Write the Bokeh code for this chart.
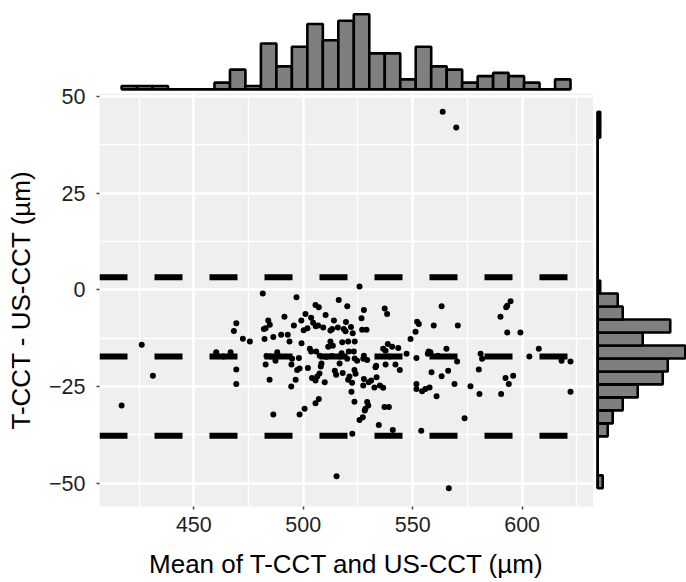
import numpy as np
from bokeh.plotting import figure
from bokeh.layouts import column, row
from bokeh.models import Range1d, Span, FixedTicker
from bokeh.embed import file_html
from bokeh.resources import INLINE

# ---------------- data ----------------
x_mean = [
    481.5, 496.9, 505.6, 507.1, 516.2, 501.0, 503.6, 491.4, 484.0, 484.7,
    482.8, 482.0, 469.4, 468.3, 472.4, 475.6, 426.2, 431.3, 417.0, 460.2,
    466.8, 469.4, 469.4, 482.3, 486.3, 489.9, 492.9, 493.7, 495.7, 499.1,
    501.9, 505.7, 506.8, 509.1, 514.0, 512.4, 513.2, 510.2, 515.8, 518.5,
    499.2, 512.4, 511.4, 513.5, 517.8, 503.0, 503.6, 505.9, 488.1, 485.0,
    487.3, 494.9, 498.0, 494.6, 482.8, 498.3, 497.2, 502.1, 508.3, 517.5,
    516.6, 514.4, 515.0, 507.4, 506.4, 505.6, 509.8, 484.6, 496.5, 494.5,
    507.1, 505.6, 500.6, 498.3, 486.3, 525.7, 520.1, 527.7, 537.2, 538.3,
    526.6, 519.3, 526.9, 528.9, 522.6, 520.5, 523.5, 520.8, 523.1, 520.1,
    523.5, 524.6, 523.4, 523.9, 521.1, 520.5, 527.7, 527.4, 529.9, 531.0,
    533.5, 532.5, 535.0, 536.5, 522.0, 523.4, 529.2, 529.7, 528.4, 528.1,
    537.1, 539.1, 527.2, 525.7, 534.5, 540.9, 553.9, 527.7, 527.4, 529.2,
    533.3, 533.0, 537.6, 542.1, 544.1, 536.5, 537.6, 538.6, 540.6, 543.4,
    547.2, 551.7, 549.0, 551.3, 552.8, 552.0, 559.6, 563.2, 570.6, 557.3,
    556.9, 558.1, 565.4, 570.3, 558.6, 563.2, 566.2, 551.7, 551.7, 554.3,
    555.8, 557.7, 560.9, 569.1, 573.7, 576.4, 580.5, 580.2, 581.0, 581.7,
    590.4, 592.4, 593.9, 595.9, 590.1, 593.2, 599.2, 594.7, 593.2, 592.7,
    603.3, 607.6, 618.0, 622.1, 622.1, 522.4, 515.2, 566.5, 563.7, 569.9,
    483.2, 486.8, 507.5, 510.5, 513.0, 516.8, 539.5, 504.5, 519.5, 521.8,
    500.2, 504.0, 518.0, 522.3, 508.0, 561.5, 463.5,
]
y_diff = [
    -0.9, -1.9, -3.9, -4.5, -2.6, -6.2, -7.2, -6.9, -7.9, -9.0,
    -9.9, -10.1, -8.6, -10.6, -12.6, -13.3, -14.2, -22.2, -29.9, -16.1,
    -16.1, -20.6, -24.3, -12.7, -12.2, -11.6, -11.6, -13.3, -9.2, -7.9,
    -9.9, -9.4, -9.2, -9.7, -7.9, -10.5, -10.1, -6.5, -9.7, -10.1,
    -13.8, -13.3, -14.7, -14.4, -13.5, -15.2, -15.9, -15.9, -16.1, -17.2,
    -18.3, -17.8, -17.6, -19.3, -19.3, -20.3, -20.7, -20.2, -19.0, -16.4,
    -19.0, -20.9, -21.9, -21.6, -22.4, -23.4, -23.9, -23.2, -23.2, -25.0,
    -28.2, -29.3, -30.7, -32.2, -32.2, 0.9, -4.2, -5.2, -4.8, -6.2,
    -7.3, -10.7, -10.3, -10.3, -11.2, -13.3, -13.3, -15.9, -15.9, -17.8,
    -17.7, -18.3, -20.7, -21.7, -22.4, -23.2, -23.0, -24.7, -23.9, -23.4,
    -22.6, -25.2, -24.7, -25.3, -26.3, -28.9, -29.0, -29.9, -30.7, -31.2,
    -30.3, -30.3, -32.9, -33.6, -34.9, -36.2, -36.4, -17.0, -17.8, -18.1,
    -19.6, -20.0, -19.3, -19.3, -20.7, -15.2, -15.7, -14.0, -14.7, -15.0,
    -16.5, -17.6, -12.7, -10.8, -8.8, -8.2, -9.2, -4.2, -9.2, -15.9,
    -16.5, -16.1, -15.2, -18.5, -21.3, -22.3, -20.9, -24.3, -25.6, -26.2,
    -25.6, -25.2, -27.5, -24.3, -33.2, -24.9, -26.9, -20.6, -16.5, -17.8,
    -26.9, -22.8, -24.3, -22.2, -6.9, -11.0, -11.0, -2.9, -4.1, -4.5,
    -17.2, -15.2, -18.3, -18.5, -26.3, -37.2, -48.2, -51.3, 46.1, 42.0,
    -17.1, -17.3, -17.0, -17.3, -17.1, -17.2, -17.2, -8.5, -8.3, -9.6,
    -10.4, -22.8, -21.5, -24.0, -19.8, -17.0, -17.2,
]
# marginal histogram counts (29 bins spanning the data range)
top_counts = [1, 1, 1, 0, 0, 0, 2, 6, 1, 14, 7, 13, 20, 15, 21, 23, 11, 11,
              3, 13, 7, 6, 2, 4, 5, 4, 2, 0, 3]
right_counts = [2, 0, 0, 0, 4, 6, 10, 16, 26, 28, 35, 18, 29, 10, 8, 1,
                0, 0, 0, 0, 0, 0, 0, 0, 0, 0, 0, 1, 1]  # lowest bin first
mean_diff = -17.2
sd_diff = 10.45
x_ticks = [450, 500, 550, 600]
y_ticks = [-50, -25, 0, 25, 50]
x_label = "Mean of T-CCT and US-CCT (µm)"
y_label = "T-CCT - US-CCT (µm)"

# ---------------- styling ----------------
FONT = "Liberation Sans"
PANEL_BG = "#EFEFEF"
BAR_FILL = "#7F7F7F"
TICK_FS = "21.5px"
TITLE_FS = "26px"
LABEL_COLOR = "#1E1E1E"

xs = np.array(x_mean)
ys = np.array(y_diff)
x_edges = np.linspace(xs.min(), xs.max(), len(top_counts) + 1)
y_edges = np.linspace(ys.min(), ys.max(), len(right_counts) + 1)

x_step = x_ticks[1] - x_ticks[0]
y_step = y_ticks[1] - y_ticks[0]
x_minor = [t - x_step / 2 for t in x_ticks] + [x_ticks[-1] + x_step / 2]
y_minor = [t + y_step / 2 for t in y_ticks[:-1]]

FW, FH = 494, 413
LEFT, BOTTOM = 99, 76
TOP_H = 93
RIGHT_W = 93
OVERLAP = 14          # room above the panel for the topmost y label
X_LO, X_HI = 406.9, 632.6
Y_LO, Y_HI = -56.0, 50.8


def minus(v):
    return str(v).replace("-", "\u2212")


# ---------------- main scatter panel ----------------
p = figure(frame_width=FW, frame_height=FH,
           x_range=Range1d(X_LO, X_HI), y_range=Range1d(Y_LO, Y_HI),
           min_border_left=LEFT, min_border_right=0, min_border_top=OVERLAP,
           min_border_bottom=BOTTOM, output_backend="svg",
           toolbar_location=None)
p.background_fill_color = PANEL_BG
p.border_fill_color = None
p.outline_line_color = None

p.xaxis.ticker = FixedTicker(ticks=x_ticks, minor_ticks=x_minor)
p.yaxis.ticker = FixedTicker(ticks=y_ticks, minor_ticks=y_minor)
p.yaxis.major_label_overrides = {t: minus(t) for t in y_ticks}
for ax in (p.xaxis, p.yaxis):
    ax.axis_line_color = None
    ax.major_tick_line_color = "#444444"
    ax.major_tick_line_width = 1.5
    ax.major_tick_in = 0
    ax.major_tick_out = 3
    ax.minor_tick_line_color = None
    ax.major_label_text_font = FONT
    ax.major_label_text_font_size = TICK_FS
    ax.major_label_text_color = LABEL_COLOR
    ax.axis_label_text_font = FONT
    ax.axis_label_text_font_size = TITLE_FS
    ax.axis_label_text_font_style = "normal"
    ax.axis_label_text_color = "black"
p.xaxis.axis_label = x_label
p.yaxis.axis_label = y_label
p.xaxis.major_label_standoff = 6
p.xaxis.axis_label_standoff = 14
p.yaxis.major_label_standoff = 10
p.yaxis.axis_label_standoff = 10

for g in (p.xgrid, p.ygrid):
    g.grid_line_color = "white"
    g.grid_line_width = 2.6
    g.minor_grid_line_color = "white"
    g.minor_grid_line_width = 1.3

for lvl in (mean_diff + 1.96 * sd_diff, mean_diff, mean_diff - 1.96 * sd_diff):
    p.add_layout(Span(location=lvl, dimension="width", line_color="black",
                      line_width=6, line_dash="28 27", line_cap="butt"))

p.scatter(xs, ys, size=6, color="black", line_color=None)

# ---------------- top marginal histogram ----------------
pt = figure(frame_width=FW, frame_height=TOP_H, x_range=p.x_range,
            y_range=Range1d(-1.32, 27.2),
            min_border_left=LEFT, min_border_right=0, min_border_top=0,
            min_border_bottom=0, x_axis_location=None, y_axis_location=None,
            output_backend="svg", toolbar_location=None)
pt.margin = (0, 0, -OVERLAP, 0)
pt.grid.visible = False
pt.outline_line_color = None
pt.segment(x0=[x_edges[0]], x1=[x_edges[-1]], y0=[0], y1=[0],
           line_color="black", line_width=2.6)
pt.quad(left=x_edges[:-1], right=x_edges[1:], bottom=0, top=top_counts,
        fill_color=BAR_FILL, line_color="black", line_width=2.6)

# ---------------- right marginal histogram ----------------
pr = figure(frame_width=RIGHT_W, frame_height=FH, y_range=p.y_range,
            x_range=Range1d(-1.68, 35.5),
            min_border_left=0, min_border_right=0, min_border_top=OVERLAP,
            min_border_bottom=BOTTOM, x_axis_location=None, y_axis_location=None,
            output_backend="svg", toolbar_location=None)
pr.border_fill_color = None
pr.grid.visible = False
pr.outline_line_color = None
pr.segment(x0=[0], x1=[0], y0=[y_edges[0]], y1=[y_edges[-1]],
           line_color="black", line_width=2.6)
pr.quad(left=0, right=right_counts, bottom=y_edges[:-1], top=y_edges[1:],
        fill_color=BAR_FILL, line_color="black", line_width=2.6)

layout = column(pt, row(p, pr, spacing=0), spacing=0)
open("out.html", "w").write(file_html(layout, INLINE))
